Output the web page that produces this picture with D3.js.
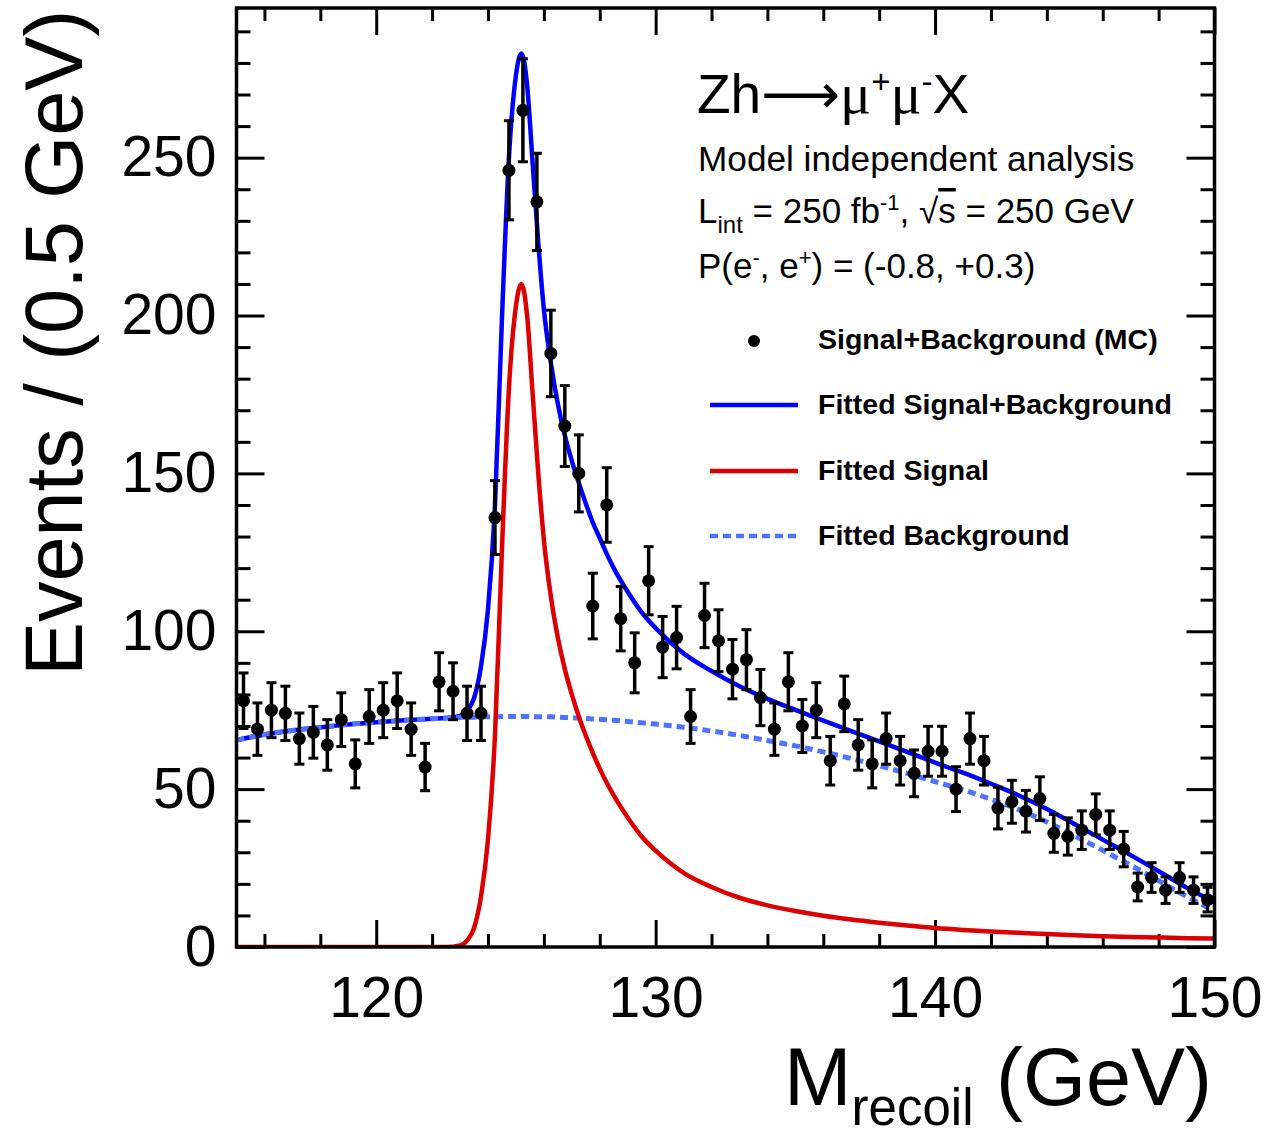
<!DOCTYPE html>
<html>
<head>
<meta charset="utf-8">
<script src="https://cdnjs.cloudflare.com/ajax/libs/d3/7.8.5/d3.min.js"></script>
<style>
body { margin: 0; background: #fff; }
svg { display: block; }
text { font-family: "Liberation Sans", Arial, Helvetica, sans-serif; fill: #000; }
</style>
</head>
<body>
<script>
//////////////////////////////////////////////////////////////
/////////////////////////// Data /////////////////////////////
//////////////////////////////////////////////////////////////

// bin centres of the 0.5 GeV histogram
var massBins = [115.25, 115.75, 116.25, 116.75, 117.25, 117.75, 118.25, 118.75, 119.25, 119.75,
                120.25, 120.75, 121.25, 121.75, 122.25, 122.75, 123.25, 123.75, 124.25, 124.75,
                125.25, 125.75, 126.25, 126.75, 127.25, 127.75, 128.25, 128.75, 129.25, 129.75,
                130.25, 130.75, 131.25, 131.75, 132.25, 132.75, 133.25, 133.75, 134.25, 134.75,
                135.25, 135.75, 136.25, 136.75, 137.25, 137.75, 138.25, 138.75, 139.25, 139.75,
                140.25, 140.75, 141.25, 141.75, 142.25, 142.75, 143.25, 143.75, 144.25, 144.75,
                145.25, 145.75, 146.25, 146.75, 147.25, 147.75, 148.25, 148.75, 149.25, 149.75];

var events = [78, 69, 75, 74, 66, 68, 64, 72, 58, 73,
              75, 78, 69, 57, 84, 81, 74, 74, 136, 246,
              265, 236, 188, 165, 150, 108, 140, 104, 90, 116,
              95, 98, 73, 105, 97, 88, 91, 79, 69, 84,
              70, 75, 59, 77, 64, 58, 66, 59, 55, 62,
              62, 50, 66, 59, 44, 46, 43, 47, 36, 35,
              37, 42, 37, 31, 19, 22, 18, 22, 18, 15];

var eventErrors = [8.8, 8.3, 8.7, 8.6, 8.1, 8.2, 8.0, 8.5, 7.6, 8.5,
                   8.7, 8.8, 8.3, 7.5, 9.2, 9.0, 8.6, 8.6, 11.7, 15.7,
                   16.3, 15.4, 13.7, 12.8, 12.2, 10.4, 11.8, 10.2, 9.5, 10.8,
                   9.7, 9.9, 8.5, 10.2, 9.8, 9.4, 9.5, 8.9, 8.3, 9.2,
                   8.4, 8.7, 7.7, 8.8, 8.0, 7.6, 8.1, 7.7, 7.4, 7.9,
                   7.9, 7.1, 8.1, 7.7, 6.6, 6.8, 6.6, 6.9, 6.0, 5.9,
                   6.1, 6.5, 6.1, 5.6, 4.4, 4.7, 4.2, 4.7, 4.2, 3.9];

// fitted curves
var curveMass = [115, 116, 117, 118, 119, 120, 121, 122, 122.5, 123,
                 123.25, 123.5, 123.75, 124, 124.25, 124.5, 124.75, 125, 125.2, 125.4,
                 125.6, 125.8, 126, 126.25, 126.5, 126.75, 127, 127.25, 127.5, 127.75,
                 128, 128.25, 128.5, 129, 129.5, 130, 131, 132, 133, 134,
                 135, 136, 137, 138, 139, 140, 141, 142, 143, 144,
                 145, 146, 147, 148, 149, 150];

var fitBackground = [65.5, 67.3, 68.6, 69.6, 70.5, 71.2, 71.8, 72.3, 72.5, 72.7,
                     72.8, 72.8, 72.9, 72.9, 72.9, 73.0, 73.0, 73.0, 73.0, 73.0,
                     73.0, 72.9, 72.9, 72.9, 72.8, 72.7, 72.6, 72.5, 72.4, 72.2,
                     72.1, 72.0, 71.8, 71.4, 71.0, 70.6, 69.6, 68.4, 67.0, 65.4,
                     63.7, 61.8, 59.7, 57.4, 55.0, 52.4, 49.8, 46.8, 43.5, 39.6,
                     35.2, 30.6, 25.9, 21.0, 16.0, 11.5];

var fitSignal = [0, 0, 0, 0, 0, 0, 0, 0, 0, 0.5,
                 2, 6, 16, 34, 67, 126, 177, 203, 210, 200,
                 175, 150, 129, 111, 98, 88, 80, 73, 67, 61.5,
                 56.5, 52, 48, 41, 35, 30.5, 23.5, 19, 15.6, 13.2,
                 11.4, 9.9, 8.7, 7.7, 6.8, 6.0, 5.4, 4.9, 4.5, 4.1,
                 3.7, 3.4, 3.2, 3.0, 2.8, 2.7];

var fitTotal = [65.5, 67.3, 68.6, 69.6, 70.5, 71.2, 71.8, 72.3, 72.5, 73.2,
                74.8, 78.8, 88.9, 106.9, 139.9, 199, 250, 276, 283, 273,
                248, 223, 202, 185, 172, 162, 154, 147, 140.5, 134.5,
                129.5, 124.5, 120, 112.5, 106, 101, 93, 87.4, 82.6, 78.6,
                75.1, 71.7, 68.4, 65.1, 61.8, 58.4, 55.2, 51.7, 48, 43.7,
                38.9, 34, 29.1, 24, 18.8, 14.2];

var xTicks = [120, 130, 140, 150];
var xMinorTicks = [116, 118, 122, 124, 126, 128, 132, 134, 136, 138, 142, 144, 146, 148];
var yTicks = [0, 50, 100, 150, 200, 250];
var yMinorTicks = [10, 20, 30, 40, 60, 70, 80, 90, 110, 120, 130, 140, 160, 170, 180, 190,
                   210, 220, 230, 240, 260, 270, 280, 290];

var legendLabels = ["Signal+Background (MC)", "Fitted Signal+Background", "Fitted Signal", "Fitted Background"];

//////////////////////////////////////////////////////////////
///////////////////// General settings ///////////////////////
//////////////////////////////////////////////////////////////

var width = 1268;
var height = 1136;
var plot = {left: 236.5, right: 1214.5, top: 8, bottom: 947};

var colBlue = "#0000ff";
var colRed = "#dd0000";
var colBg = "#4f73ff";

var svg = d3.select("body").append("svg")
    .attr("width", width)
    .attr("height", height);

//////////////////////////////////////////////////////////////
///////////////////// Scales & Axes //////////////////////////
//////////////////////////////////////////////////////////////

var xScale = d3.scaleLinear().domain([115, 150]).range([plot.left, plot.right]);
var yScale = d3.scaleLinear().domain([0, 297.4]).range([plot.bottom, plot.top]);

function styleAxis(g) {
    g.select(".domain").remove();
    g.selectAll(".tick line").attr("stroke", "#000").attr("stroke-width", 3);
    g.selectAll(".tick text")
        .attr("fill", "#000")
        .style("font-family", "'Liberation Sans', Arial, Helvetica, sans-serif")
        .style("font-size", "57px");
}

// bottom
svg.append("g")
    .attr("transform", "translate(0," + plot.bottom + ")")
    .call(d3.axisBottom(xScale).tickValues(xTicks).tickSizeInner(-27).tickSizeOuter(0).tickPadding(30))
    .call(styleAxis);
svg.append("g")
    .attr("transform", "translate(0," + plot.bottom + ")")
    .call(d3.axisBottom(xScale).tickValues(xMinorTicks).tickSizeInner(-13).tickSizeOuter(0).tickFormat(""))
    .call(styleAxis);

// top
svg.append("g")
    .attr("transform", "translate(0," + plot.top + ")")
    .call(d3.axisTop(xScale).tickValues(xTicks).tickSizeInner(-27).tickSizeOuter(0).tickFormat(""))
    .call(styleAxis);
svg.append("g")
    .attr("transform", "translate(0," + plot.top + ")")
    .call(d3.axisTop(xScale).tickValues(xMinorTicks).tickSizeInner(-13).tickSizeOuter(0).tickFormat(""))
    .call(styleAxis);

// left
svg.append("g")
    .attr("transform", "translate(" + plot.left + ",0)")
    .call(d3.axisLeft(yScale).tickValues(yTicks).tickSizeInner(-28).tickSizeOuter(0).tickPadding(20))
    .call(styleAxis);
svg.append("g")
    .attr("transform", "translate(" + plot.left + ",0)")
    .call(d3.axisLeft(yScale).tickValues(yMinorTicks).tickSizeInner(-14).tickSizeOuter(0).tickFormat(""))
    .call(styleAxis);

// right
svg.append("g")
    .attr("transform", "translate(" + plot.right + ",0)")
    .call(d3.axisRight(yScale).tickValues(yTicks).tickSizeInner(-28).tickSizeOuter(0).tickFormat(""))
    .call(styleAxis);
svg.append("g")
    .attr("transform", "translate(" + plot.right + ",0)")
    .call(d3.axisRight(yScale).tickValues(yMinorTicks).tickSizeInner(-14).tickSizeOuter(0).tickFormat(""))
    .call(styleAxis);

//////////////////////////////////////////////////////////////
///////////////////////// Curves /////////////////////////////
//////////////////////////////////////////////////////////////

svg.append("defs").append("clipPath")
    .attr("id", "clipPlot")
    .append("rect")
        .attr("x", plot.left)
        .attr("y", plot.top)
        .attr("width", plot.right - plot.left)
        .attr("height", plot.bottom - plot.top);

function curveLine(values) {
    return d3.line()
        .x(function(d, i) { return xScale(curveMass[i]); })
        .y(function(d) { return yScale(d); })
        .curve(d3.curveMonotoneX)(values);
}

var curves = svg.append("g").attr("clip-path", "url(#clipPlot)");

curves.append("path")
    .attr("d", curveLine(fitTotal))
    .attr("fill", "none")
    .attr("stroke", colBlue)
    .attr("stroke-width", 4.5);

curves.append("path")
    .attr("d", curveLine(fitBackground))
    .attr("fill", "none")
    .attr("stroke", colBg)
    .attr("stroke-width", 5)
    .attr("stroke-dasharray", "8,5");

curves.append("path")
    .attr("d", curveLine(fitSignal))
    .attr("fill", "none")
    .attr("stroke", colRed)
    .attr("stroke-width", 4.5);

//////////////////////////////////////////////////////////////
////////////////////// Data points ///////////////////////////
//////////////////////////////////////////////////////////////

var points = svg.selectAll(".point")
    .data(events).enter()
    .append("g")
        .attr("class", "point");

points.append("line")
    .attr("x1", function(d, i) { return xScale(massBins[i]); })
    .attr("x2", function(d, i) { return xScale(massBins[i]); })
    .attr("y1", function(d, i) { return yScale(d - eventErrors[i]); })
    .attr("y2", function(d, i) { return yScale(d + eventErrors[i]); })
    .attr("stroke", "#000")
    .attr("stroke-width", 3.5);

[-1, 1].forEach(function(s) {
    points.append("line")
        .attr("x1", function(d, i) { return xScale(massBins[i]) - 5; })
        .attr("x2", function(d, i) { return xScale(massBins[i]) + 5; })
        .attr("y1", function(d, i) { return yScale(d + s * eventErrors[i]); })
        .attr("y2", function(d, i) { return yScale(d + s * eventErrors[i]); })
        .attr("stroke", "#000")
        .attr("stroke-width", 3);
});

points.append("circle")
    .attr("cx", function(d, i) { return xScale(massBins[i]); })
    .attr("cy", function(d) { return yScale(d); })
    .attr("r", 6.5)
    .attr("fill", "#000");

// frame
svg.append("rect")
    .attr("x", plot.left)
    .attr("y", plot.top)
    .attr("width", plot.right - plot.left)
    .attr("height", plot.bottom - plot.top)
    .attr("fill", "none")
    .attr("stroke", "#000")
    .attr("stroke-width", 3.5);

//////////////////////////////////////////////////////////////
/////////////////////// Axis titles //////////////////////////
//////////////////////////////////////////////////////////////

svg.append("text")
    .attr("transform", "translate(82,676) rotate(-90)")
    .style("font-size", "81px")
    .text("Events / (0.5 GeV)");

var xTitle = svg.append("text")
    .attr("x", 1212)
    .attr("y", 1105)
    .attr("text-anchor", "end")
    .style("font-size", "81px");
xTitle.append("tspan").text("M");
xTitle.append("tspan").attr("dy", 20).style("font-size", "51px").text("recoil");
xTitle.append("tspan").attr("dy", -20).text(" (GeV)");

//////////////////////////////////////////////////////////////
////////////////////// Text & Legend /////////////////////////
//////////////////////////////////////////////////////////////

// rich text helper: parts are [text, shift, size, font, decoration]
function richText(x, y, size, parts) {
    var t = svg.append("text").attr("x", x).attr("y", y).style("font-size", size + "px");
    var shift = 0;
    parts.forEach(function(p) {
        var ts = t.append("tspan").text(p[0]);
        var s = p[1] || 0;
        ts.attr("dy", s - shift);
        shift = s;
        if (p[2]) ts.style("font-size", p[2] + "px");
        if (p[3]) ts.style("font-family", p[3]);
        if (p[4]) ts.style("text-decoration", p[4]);
    });
    return t;
}

richText(697, 113, 55, [
    ["Zh"],
    ["\u27F6", 0, 55, "'DejaVu Sans'"],
    ["\u03BC", 0, 58, "'Liberation Serif'"],
    ["+", -20, 33],
    ["\u03BC", 0, 58, "'Liberation Serif'"],
    ["-", -20, 33],
    ["X"]
]);

richText(698, 171, 35.2, [["Model independent analysis"]]);

richText(698, 223, 35, [
    ["L"],
    ["int", 10, 24],
    [" = 250 fb"],
    ["-1", -13, 22],
    [", \u221A"],
    ["s", 0, 35, null, "overline"],
    [" = 250 GeV"]
]);

richText(698, 278, 35, [
    ["P(e"],
    ["-", -13, 22],
    [", e"],
    ["+", -13, 22],
    [") = (-0.8, +0.3)"]
]);

var legendY = [349, 414, 480, 545];

var legend = svg.append("g");

legend.append("circle")
    .attr("cx", 754)
    .attr("cy", legendY[0] - 8)
    .attr("r", 6)
    .attr("fill", "#000");

[[colBlue, null], [colRed, null], [colBg, "8,5"]].forEach(function(s, i) {
    legend.append("line")
        .attr("x1", 710)
        .attr("x2", 798)
        .attr("y1", legendY[i + 1] - 9)
        .attr("y2", legendY[i + 1] - 9)
        .attr("stroke", s[0])
        .attr("stroke-width", 4.5)
        .attr("stroke-dasharray", s[1]);
});

legend.selectAll(".legendText")
    .data(legendLabels).enter()
    .append("text")
        .attr("class", "legendText")
        .attr("x", 818)
        .attr("y", function(d, i) { return legendY[i]; })
        .style("font-size", "28.5px")
        .style("font-weight", "bold")
        .text(function(d) { return d; });
</script>
</body>
</html>
